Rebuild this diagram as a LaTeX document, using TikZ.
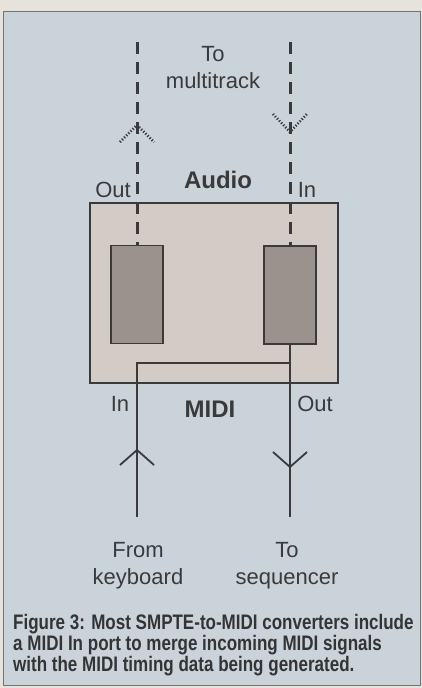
\documentclass[tikz,border=0pt]{standalone}
\usepackage{fontspec}
\setmainfont{Liberation Sans}
\newfontfamily\capfont{Liberation Sans Bold}[FakeStretch=0.81]
\usetikzlibrary{positioning,calc}
\definecolor{paper}{HTML}{E6E3DA}
\definecolor{panel}{HTML}{CAD3D9}
\definecolor{unitfill}{HTML}{D3CBC5}
\definecolor{blockfill}{HTML}{9B928E}
\definecolor{ink}{HTML}{3A3A3A}
\begin{document}
\begin{tikzpicture}[
  x=1pt, y=-1pt,
  unit/.style={draw=ink, line width=1.5pt, fill=unitfill, minimum width=248pt, minimum height=180pt, inner sep=0pt},
  block/.style={draw=ink, line width=1.3pt, fill=blockfill, minimum width=52pt, minimum height=98pt, inner sep=0pt},
  audioline/.style={draw=ink, line width=3pt, dash pattern=on 12pt off 8pt},
  midiline/.style={draw=ink, line width=2.2pt},
  vmark/.style={draw=ink, line width=2.6pt, dash pattern=on 1.2pt off 1.8pt},
  vopen/.style={draw=ink, line width=1.8pt},
  lbl/.style={font=\fontsize{22}{27}\selectfont, text=ink, inner sep=0pt, align=center},
  hdr/.style={font=\fontsize{24}{27}\selectfont\bfseries, text=ink, inner sep=0pt}
]
  \useasboundingbox (0,0) rectangle (422,688);
  \fill[paper] (0,0) rectangle (422,688);
  \draw[ink!70, line width=1pt, fill=panel] (3.5,11) rectangle (420,685);

  % Converter unit and its two sections
  \node[unit] (unit) at (214,293) {};
  \node[block] (enc) at (137,294.5) {};
  \node[block] (dec) at (290,295) {};

  % Audio ends
  \coordinate (aout) at (137,42);
  \coordinate (ain) at (290,42);
  \draw[audioline] (aout) -- (enc.north);
  \draw[audioline] (ain) -- (dec.north);
  \draw[vmark] ($(aout)+(-17,100)$) -- ($(aout)+(0,83)$) -- ($(aout)+(17,100)$);
  \draw[vmark] ($(ain)+(-17,72)$) -- ($(ain)+(0,90)$) -- ($(ain)+(17,72)$);

  % MIDI ends
  \coordinate (kbd) at (137,517);
  \coordinate (seq) at (290,517);
  \coordinate (merge) at (290,363);
  \draw[midiline] (kbd) |- (merge);
  \draw[midiline] (dec.south) -- (seq);
  \draw[vopen] (120,465) -- (137,450) -- (154,465);
  \draw[vopen] (273,452) -- (290,467) -- (307,452);

  % Labels
  \node[lbl] (mt) at (213,68) {To\\multitrack};
  \node[hdr] (audio) at (218,180) {Audio};
  \node[lbl] (aoutl) at (113,190) {Out};
  \node[lbl] (ainl) at (307,190) {In};
  \node[lbl] (minl) at (120,404) {In};
  \node[hdr] (midi) at (210,409) {MIDI};
  \node[lbl] (moutl) at (315,404) {Out};
  \node[lbl] (from) at (138,566) {From\\keyboard};
  \node[lbl] (to) at (287,566) {To\\sequencer};

  % Caption
  \node[anchor=north west, inner sep=0pt, align=left, text=ink!90!black,
        font=\capfont\fontsize{21}{21}\selectfont] (cap) at (13,614)
    {Figure 3: Most SMPTE-to-MIDI converters include\\
     a MIDI In port to merge incoming MIDI signals\\
     with the MIDI timing data being generated.};
\end{tikzpicture}
\end{document}
